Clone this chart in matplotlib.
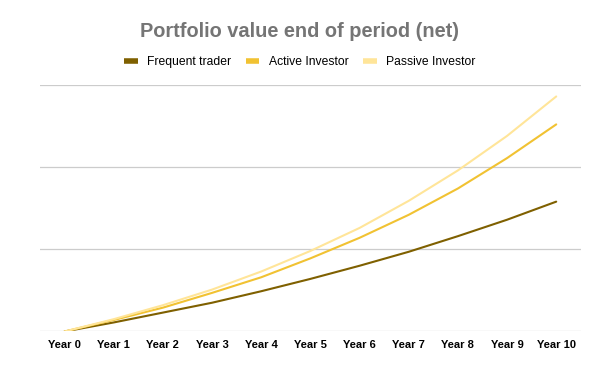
import matplotlib
matplotlib.use("Agg")
import matplotlib.pyplot as plt

years = ["Year 0", "Year 1", "Year 2", "Year 3", "Year 4", "Year 5",
         "Year 6", "Year 7", "Year 8", "Year 9", "Year 10"]
frequent = [0, 0.11, 0.23, 0.35, 0.49, 0.64, 0.80, 0.97, 1.16, 1.36, 1.58]
active = [0, 0.14, 0.29, 0.47, 0.66, 0.89, 1.14, 1.42, 1.74, 2.11, 2.52]
passive = [0, 0.15, 0.32, 0.51, 0.73, 0.98, 1.26, 1.59, 1.96, 2.38, 2.86]

names = ["Frequent trader", "Active Investor", "Passive Investor"]
colors = ["#7f6000", "#f1c232", "#ffe599"]

plt.rcParams["font.family"] = ["Liberation Sans", "DejaVu Sans"]

fig = plt.figure(figsize=(6, 3.71), dpi=100)
ax = fig.add_axes([0.0667, 0.1065, 0.9013, 0.6645])

xs = list(range(len(years)))
for ys, name, c in zip([frequent, active, passive], names, colors):
    ax.plot(xs, ys, color=c, lw=1.5, label=name, solid_capstyle="round")

ax.set_xlim(-0.5, len(years) - 0.5)
ax.set_ylim(0, 3)
ax.set_yticks([0, 1, 2, 3])
ax.set_yticklabels([])
ax.set_xticks(xs)
ax.set_xticklabels(years, fontsize=8, fontweight="bold")
ax.tick_params(axis="both", length=0, pad=6)
ax.grid(axis="y", color="#cccccc", lw=0.9)
ax.set_axisbelow(True)
for s in ax.spines.values():
    s.set_visible(False)

fig.text(0.5, 0.915, "Portfolio value end of period (net)", ha="center", va="center",
         fontsize=14.4, fontweight="bold", color="#757575")

handles, labels = ax.get_legend_handles_labels()
leg = fig.legend(handles, labels, loc="center", bbox_to_anchor=(0.5, 0.833), ncol=3,
                 frameon=False, fontsize=8.7, handlelength=1.1, columnspacing=1.2,
                 handletextpad=0.8)
for h in leg.get_lines():
    h.set_linewidth(4)
    h.set_solid_capstyle("butt")

fig.savefig("out.png", dpi=100)
